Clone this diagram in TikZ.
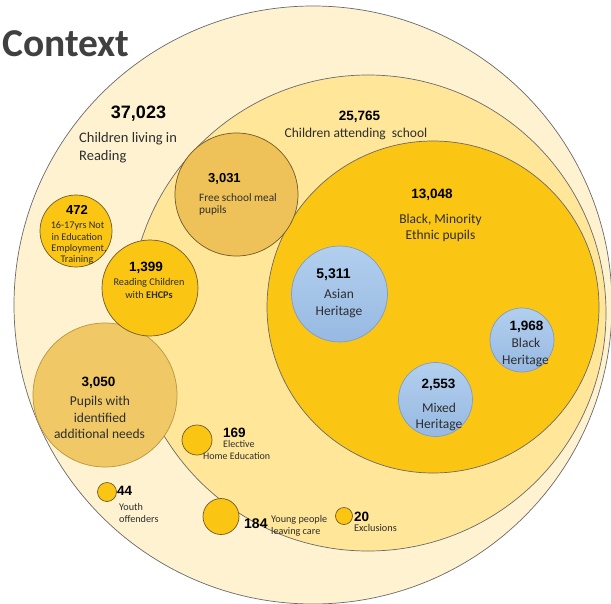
\documentclass[tikz,border=0pt]{standalone}
\usepackage{fontspec}
\setmainfont{Carlito}
\newfontfamily\arialfont{Liberation Sans}
\definecolor{outerfill}{HTML}{FEF2D0}
\definecolor{secondfill}{HTML}{FFE699}
\definecolor{goldfill}{HTML}{FBC514}
\definecolor{tanfill}{HTML}{EEC259}
\definecolor{tanlight}{HTML}{F0C866}
\definecolor{bluetop}{HTML}{B2CFEE}
\definecolor{bluebot}{HTML}{97B9E2}
\definecolor{ringline}{HTML}{6A6A6A}
\definecolor{goldline}{HTML}{6E5A28}
\definecolor{blueline}{HTML}{7F9CC4}
\definecolor{tanline}{HTML}{B8963F}
\definecolor{txtgray}{HTML}{2E2E2E}
\definecolor{titlegray}{HTML}{404040}
\tikzset{
  disc/.style={circle, inner sep=0pt, outer sep=0pt, line width=0.7pt},
  ring/.style={disc, draw=ringline},
  golddisc/.style={disc, draw=goldline, fill=goldfill},
  bluedisc/.style={disc, draw=blueline, top color=bluetop, bottom color=bluebot},
  num/.style={inner sep=0pt, anchor=base, text=black,
    font=\arialfont\bfseries\fontsize{#1}{#1}\selectfont},
  lbl/.style={inner sep=0pt, anchor=base, text=txtgray,
    font=\fontsize{#1}{#1}\selectfont},
}
\begin{document}
\begin{tikzpicture}[x=1pt,y=-1pt]
\useasboundingbox (0,0) rectangle (611,603);
\fill[white] (0,0) rectangle (611,603);
% big rings
\node[ring, fill=outerfill, minimum size=598pt] (outer) at (313,305) {};
\node[ring, fill=secondfill, minimum size=476pt] (school) at (368,313) {};
\node[ring, fill=goldfill, minimum size=332pt] (bme) at (433,307) {};
% blue heritage discs
\node[bluedisc, minimum size=96pt] (asian) at (339.5,294) {};
\node[bluedisc, minimum size=64pt] (black) at (522,340) {};
\node[bluedisc, minimum size=74pt] (mixed) at (435.5,399.5) {};
% tan discs
\node[disc, draw=goldline, fill=tanfill, minimum size=123pt] (fsm) at (236.5,194.5) {};
\node[disc, draw=tanline, fill=tanlight, minimum size=144pt] (san) at (105,395) {};
% small gold discs
\node[golddisc, minimum size=72pt] (neet) at (76,231) {};
\node[golddisc, minimum size=96pt] (ehcp) at (150,288) {};
\node[golddisc, minimum size=30pt] (ehe) at (197,440) {};
\node[golddisc, minimum size=19pt] (yo) at (107,492) {};
\node[golddisc, minimum size=36pt] (care) at (221,516.5) {};
\node[golddisc, minimum size=17pt] (excl) at (344,516) {};
% title
\node[inner sep=0pt, anchor=base west, text=titlegray,
  font=\bfseries\fontsize{39.5}{39.5}\selectfont] (title) at (2,56.5) {Context};
% outer ring text
\node[num=18] (n37) at (138.5,118) {37,023};
\node[lbl=14.5, anchor=base west] (t37a) at (79,142) {Children living in};
\node[lbl=14.5, anchor=base west] (t37b) at (79,160) {Reading};
% school ring
\node[num=13.5] (n25) at (359.5,120) {25,765};
\node[lbl=13.5] (t25) at (356,137) {Children attending \ school};
% fsm
\node[num=13, anchor=base west] (n3031) at (208,182) {3,031};
\node[lbl=11.3, anchor=base west] (t3031a) at (199,201) {Free school meal};
\node[lbl=11.3, anchor=base west] (t3031b) at (199,213) {pupils};
% bme
\node[num=13.5] (n13) at (432,198) {13,048};
\node[lbl=13.5] (t13a) at (440.5,223) {Black, Minority};
\node[lbl=13.5] (t13b) at (440.5,239) {Ethnic pupils};
% asian
\node[num=14] (n5311) at (333.5,278) {5,311};
\node[lbl=13.5] (tasa) at (339,298) {Asian};
\node[lbl=13.5] (tasb) at (339,315) {Heritage};
% black
\node[num=13.5] (n1968) at (526.5,330) {1,968};
\node[lbl=13.5] (tbla) at (526,347) {Black};
\node[lbl=13.5] (tblb) at (525.5,364) {Heritage};
% mixed
\node[num=13.5] (n2553) at (438.5,388) {2,553};
\node[lbl=13.5] (tmia) at (439,412) {Mixed};
\node[lbl=13.5] (tmib) at (439,428) {Heritage};
% neet
\node[num=13] (n472) at (77,214) {472};
\node[lbl=10.2] (tnea) at (77.5,228) {16-17yrs Not};
\node[lbl=10.2] (tneb) at (77,240) {in Education};
\node[lbl=10.2] (tnec) at (79,251) {Employment,};
\node[lbl=10.2] (tned) at (77,262.5) {Training};
% ehcp
\node[num=13.5] (n1399) at (146,271) {1,399};
\node[lbl=10.3] (teha) at (149,285) {Reading Children};
\node[lbl=10.3] (tehb) at (149,298) {with \textbf{EHCPs}};
% san
\node[num=13.5] (n3050) at (98.5,386) {3,050};
\node[lbl=13.5] (tsaa) at (100,405.5) {Pupils with};
\node[lbl=13.5] (tsab) at (100,422) {identified};
\node[lbl=13.5] (tsac) at (99.5,438.5) {additional needs};
% ehe
\node[num=13.5, anchor=base west] (n169) at (223,437) {169};
\node[lbl=10, anchor=base west] (tehea) at (223,447) {Elective};
\node[lbl=10, anchor=base west] (teheb) at (203,459) {Home Education};
% youth offenders
\node[num=13.5, anchor=base west] (n44) at (117,495) {44};
\node[lbl=10.2, anchor=base west] (tyoa) at (119,510) {Youth};
\node[lbl=10.2, anchor=base west] (tyob) at (119,522) {offenders};
% care leavers
\node[num=14, anchor=base west] (n184) at (244,528) {184};
\node[lbl=10.2, anchor=base west] (tcaa) at (271,522) {Young people};
\node[lbl=10.2, anchor=base west] (tcab) at (271,534) {leaving care};
% exclusions
\node[num=13.5, anchor=base west] (n20) at (354,521.5) {20};
\node[lbl=10.3, anchor=base west] (texc) at (354,531) {Exclusions};
\end{tikzpicture}
\end{document}
